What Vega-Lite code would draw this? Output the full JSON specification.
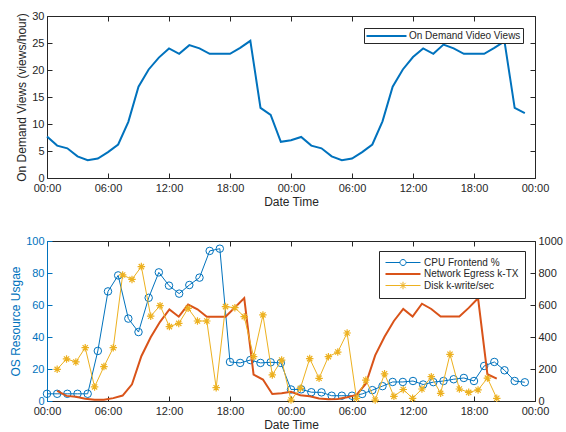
{
 "$schema": "https://vega.github.io/schema/vega-lite/v6.json",
 "padding": {"left": 9, "top": 10, "right": 0, "bottom": 0},
 "spacing": 28,
 "datasets": {
  "hourly": [
   {"h":0,"views":7.7,"cpu":4.5},{"h":1,"views":6.0,"cpu":4.5},{"h":2,"views":5.5,"cpu":4.5},{"h":3,"views":4.0,"cpu":4.5},
   {"h":4,"views":3.3,"cpu":4.5},{"h":5,"views":3.6,"cpu":31.3},{"h":6,"views":4.8,"cpu":68.5},{"h":7,"views":6.2,"cpu":78.5},
   {"h":8,"views":10.4,"cpu":51.5},{"h":9,"views":16.9,"cpu":43.1},{"h":10,"views":20.1,"cpu":64.5},{"h":11,"views":22.3,"cpu":80.4},
   {"h":12,"views":24.0,"cpu":72.1},{"h":13,"views":23.0,"cpu":67.1},{"h":14,"views":24.6,"cpu":72.5},{"h":15,"views":24.0,"cpu":77.1},
   {"h":16,"views":23.0,"cpu":93.8},{"h":17,"views":23.0,"cpu":95.2},{"h":18,"views":23.0,"cpu":24.4},{"h":19,"views":24.1,"cpu":23.8},
   {"h":20,"views":25.4,"cpu":25.6},{"h":21,"views":13.0,"cpu":23.8},{"h":22,"views":11.7,"cpu":24.2},{"h":23,"views":6.7,"cpu":23.8},
   {"h":24,"views":7.0,"cpu":7.2},{"h":25,"views":7.6,"cpu":7.3},{"h":26,"views":6.0,"cpu":5.5},{"h":27,"views":5.5,"cpu":5.4},
   {"h":28,"views":4.0,"cpu":3.3},{"h":29,"views":3.3,"cpu":3.3},{"h":30,"views":3.6,"cpu":3.3},{"h":31,"views":4.8,"cpu":4.4},
   {"h":32,"views":6.2,"cpu":6.8},{"h":33,"views":10.5,"cpu":9.3},{"h":34,"views":16.9,"cpu":11.9},{"h":35,"views":20.1,"cpu":11.9},
   {"h":36,"views":22.4,"cpu":12.5},{"h":37,"views":24.0,"cpu":10.3},{"h":38,"views":23.0,"cpu":11.8},{"h":39,"views":24.7,"cpu":12.5},
   {"h":40,"views":24.0,"cpu":13.6},{"h":41,"views":23.0,"cpu":14.4},{"h":42,"views":23.0,"cpu":12.5},{"h":43,"views":23.0,"cpu":21.9},
   {"h":44,"views":24.1,"cpu":24.4},{"h":45,"views":25.3,"cpu":19.2},{"h":46,"views":13.0,"cpu":12.5},{"h":47,"views":12.0,"cpu":11.7}
  ],
  "sampled": [
   {"h":1.00,"net":64,"disk":198},{"h":1.92,"net":32,"disk":263},{"h":2.84,"net":26,"disk":244},{"h":3.76,"net":14,"disk":333},
   {"h":4.68,"net":8,"disk":88},{"h":5.60,"net":8,"disk":215},{"h":6.52,"net":18,"disk":333},{"h":7.44,"net":34,"disk":788},
   {"h":8.36,"net":104,"disk":760},{"h":9.28,"net":280,"disk":840},{"h":10.20,"net":398,"disk":530},{"h":11.12,"net":495,"disk":596},
   {"h":12.04,"net":572,"disk":465},{"h":12.96,"net":527,"disk":485},{"h":13.88,"net":603,"disk":579},{"h":14.80,"net":573,"disk":500},
   {"h":15.72,"net":527,"disk":500},{"h":16.64,"net":527,"disk":83},{"h":17.56,"net":527,"disk":590},{"h":18.48,"net":584,"disk":583},
   {"h":19.40,"net":643,"disk":527},{"h":20.32,"net":165,"disk":277},{"h":21.24,"net":134,"disk":538},{"h":22.16,"net":44,"disk":163},
   {"h":23.08,"net":48,"disk":256},{"h":24.00,"net":57,"disk":6},{"h":24.92,"net":36,"disk":79},{"h":25.84,"net":30,"disk":265},
   {"h":26.76,"net":16,"disk":142},{"h":27.68,"net":11,"disk":277},{"h":28.60,"net":13,"disk":306},{"h":29.52,"net":23,"disk":425},
   {"h":30.44,"net":38,"disk":17},{"h":31.36,"net":108,"disk":131},{"h":32.28,"net":285,"disk":6},{"h":33.20,"net":402,"disk":170},
   {"h":34.12,"net":500,"disk":29},{"h":35.04,"net":575,"disk":72},{"h":35.96,"net":528,"disk":17},{"h":36.88,"net":608,"disk":75},
   {"h":37.80,"net":575,"disk":152},{"h":38.72,"net":528,"disk":48},{"h":39.64,"net":528,"disk":292},{"h":40.56,"net":528,"disk":75},
   {"h":41.48,"net":582,"disk":54},{"h":42.40,"net":642,"disk":69},{"h":43.32,"net":167,"disk":143},{"h":44.24,"net":140,"disk":17}
  ]
 },
 "vconcat": [
  {
   "width": 488, "height": 162,
   "data": {"name": "hourly"},
   "layer": [
    {
     "mark": {"type": "line", "strokeWidth": 2},
     "encoding": {
      "x": {"field": "h", "type": "quantitative", "scale": {"domain": [0, 48], "nice": false, "zero": false},
            "axis": {"values": [0,6,12,18,24,30,36,42,48], "labelExpr": "(datum.value % 24 < 10 ? '0' : '') + (datum.value % 24) + ':00'", "title": "Date Time", "labelPadding": 9}},
      "y": {"field": "views", "type": "quantitative", "scale": {"domain": [0, 30], "nice": false},
            "axis": {"values": [0,5,10,15,20,25,30], "title": "On Demand Views (views/hour)"}},
      "color": {"datum": "On Demand Video Views", "scale": {"domain": ["On Demand Video Views"], "range": ["#0072BD"]},
                "legend": {"title": null, "orient": "top-right", "offset": 12, "padding": 2,
                           "symbolType": "M-1.1,0H6.9", "symbolSize": 100, "symbolStrokeWidth": 2, "labelOffset": 31}}
     }
    },
    {
     "mark": {"type": "line", "strokeOpacity": 0},
     "encoding": {
      "x": {"field": "h", "type": "quantitative", "axis": {"orient": "top", "values": [0,6,12,18,24,30,36,42,48], "labels": false, "title": null}},
      "y": {"field": "views", "type": "quantitative", "axis": {"orient": "right", "values": [0,5,10,15,20,25,30], "labels": false, "title": null}}
     }
    }
   ],
   "resolve": {"axis": {"x": "independent", "y": "independent"}}
  },
  {
   "width": 488, "height": 160,
   "layer": [
    {
     "data": {"name": "hourly"},
     "mark": {"type": "line", "strokeWidth": 1},
     "encoding": {
      "x": {"field": "h", "type": "quantitative", "scale": {"domain": [0, 48], "nice": false, "zero": false},
            "axis": {"values": [0,6,12,18,24,30,36,42,48], "labelExpr": "(datum.value % 24 < 10 ? '0' : '') + (datum.value % 24) + ':00'", "title": "Date Time", "labelPadding": 9}},
      "y": {"field": "cpu", "type": "quantitative", "scale": {"domain": [0, 100], "nice": false},
            "axis": {"orient": "left", "values": [0,20,40,60,80,100], "title": "OS Resource Usgae", "domainColor": "#0072BD", "tickColor": "#0072BD", "labelColor": "#0072BD", "titleColor": "#0072BD"}},
      "color": {"datum": "CPU Frontend %",
                "scale": {"domain": ["CPU Frontend %", "Network Egress k-TX", "Disk k-write/sec"], "range": ["#0072BD", "#D95319", "#EDB120"]},
                "legend": {"title": null, "orient": "top-right", "offset": 10, "padding": 6,
                           "symbolSize": 100, "symbolStrokeWidth": 1, "labelOffset": 27, "rowPadding": 0}}
     }
    },
    {
     "data": {"name": "hourly"},
     "mark": {"type": "point", "shape": "circle", "filled": false, "size": 56, "strokeWidth": 1, "opacity": 1},
     "encoding": {
      "x": {"field": "h", "type": "quantitative", "axis": {"orient": "top", "values": [0,6,12,18,24,30,36,42,48], "labels": false, "title": null}},
      "y": {"field": "cpu", "type": "quantitative", "scale": {"domain": [0, 100], "nice": false}, "axis": null},
      "color": {"datum": "CPU Frontend %", "scale": {"domain": ["CPU Frontend %", "Network Egress k-TX", "Disk k-write/sec"], "range": ["#0072BD", "#D95319", "#EDB120"]}}
     }
    },
    {
     "data": {"name": "sampled"},
     "mark": {"type": "line", "strokeWidth": 2},
     "encoding": {
      "x": {"field": "h", "type": "quantitative", "axis": null},
      "y": {"field": "net", "type": "quantitative", "scale": {"domain": [0, 1000], "nice": false},
            "axis": {"orient": "right", "values": [0,200,400,600,800,1000], "format": "d", "title": null}},
      "color": {"datum": "Network Egress k-TX", "scale": {"domain": ["CPU Frontend %", "Network Egress k-TX", "Disk k-write/sec"], "range": ["#0072BD", "#D95319", "#EDB120"]}}
     }
    },
    {
     "data": {"name": "sampled"},
     "mark": {"type": "line", "strokeWidth": 1},
     "encoding": {
      "x": {"field": "h", "type": "quantitative", "axis": null},
      "y": {"field": "disk", "type": "quantitative", "scale": {"domain": [0, 1000], "nice": false}, "axis": null},
      "color": {"datum": "Disk k-write/sec", "scale": {"domain": ["CPU Frontend %", "Network Egress k-TX", "Disk k-write/sec"], "range": ["#0072BD", "#D95319", "#EDB120"]}}
     }
    },
    {
     "data": {"name": "sampled"},
     "mark": {"type": "point", "shape": "M-1,0H1M0,-1V1M-0.7,-0.7L0.7,0.7M-0.7,0.7L0.7,-0.7", "filled": false, "size": 56, "strokeWidth": 1.2, "opacity": 1},
     "encoding": {
      "x": {"field": "h", "type": "quantitative", "axis": null},
      "y": {"field": "disk", "type": "quantitative", "scale": {"domain": [0, 1000], "nice": false}, "axis": null},
      "color": {"datum": "Disk k-write/sec", "scale": {"domain": ["CPU Frontend %", "Network Egress k-TX", "Disk k-write/sec"], "range": ["#0072BD", "#D95319", "#EDB120"]}}
     }
    },
    {
     "data": {"name": "sampled"},
     "mark": {"type": "point", "filled": false, "opacity": 0},
     "encoding": {
      "x": {"field": "h", "type": "quantitative", "axis": null},
      "y": {"field": "net", "type": "quantitative", "scale": {"domain": [0, 1000], "nice": false}, "axis": null},
      "color": {"datum": "Network Egress k-TX", "scale": {"domain": ["CPU Frontend %", "Network Egress k-TX", "Disk k-write/sec"], "range": ["#0072BD", "#D95319", "#EDB120"]}},
      "shape": {"datum": "Network Egress k-TX",
                "scale": {"domain": ["CPU Frontend %", "Network Egress k-TX", "Disk k-write/sec"],
                          "range": ["M-1.1,0H1.8M3.0,0H5.9M3.0,0A0.6,0.6 0 1,1 1.8,0A0.6,0.6 0 1,1 3.0,0",
                                    "M-1.1,0H5.9",
                                    "M-1.1,0H5.9M1.65,0H3.15M2.4,-0.75V0.75M1.87,-0.53L2.93,0.53M1.87,0.53L2.93,-0.53"]}},
      "strokeWidth": {"datum": "Network Egress k-TX", "type": "ordinal",
                      "scale": {"type": "ordinal", "domain": ["CPU Frontend %", "Network Egress k-TX", "Disk k-write/sec"], "range": [1, 2, 1]}}
     }
    }
   ],
   "resolve": {"scale": {"y": "independent"}, "axis": {"x": "independent"}}
  }
 ],
 "resolve": {"scale": {"color": "independent", "shape": "independent", "strokeWidth": "independent"},
             "legend": {"color": "independent", "shape": "independent", "strokeWidth": "independent"}},
 "config": {
  "font": "Liberation Sans",
  "view": {"stroke": null},
  "legend": {"symbolOpacity": 1, "labelFontSize": 10, "labelColor": "#262626", "strokeColor": "#262626", "fillColor": "white", "symbolFillColor": "transparent"},
  "axis": {"grid": false, "domainColor": "#262626", "tickColor": "#262626", "labelColor": "#262626", "titleColor": "#262626",
           "labelFontSize": 11, "titleFontSize": 12, "titleFontWeight": "normal", "tickSize": -5, "labelPadding": 8, "titlePadding": 3,
           "domainWidth": 1, "tickWidth": 1, "labelFlush": false, "labelOverlap": false}
 }
}
